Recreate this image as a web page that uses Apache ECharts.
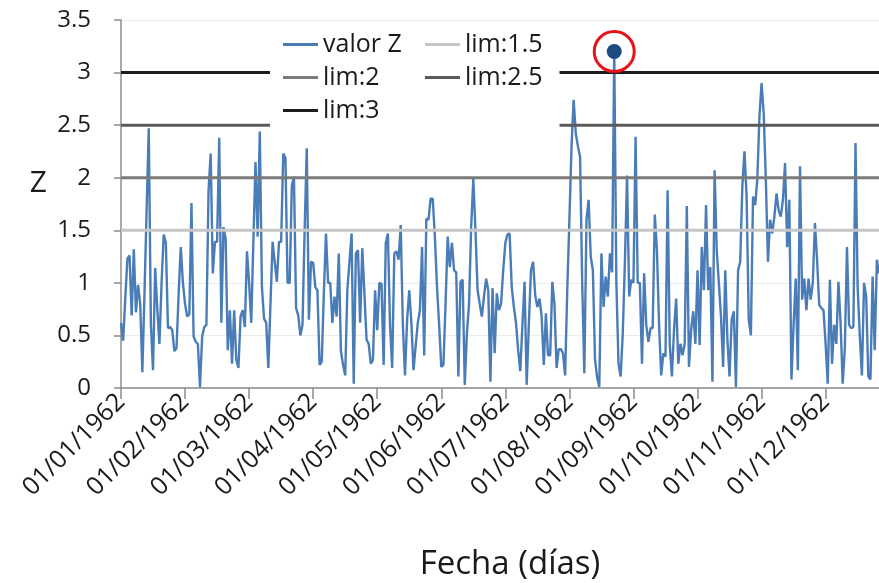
<!DOCTYPE html>
<html>
<head>
<meta charset="utf-8">
<script src="https://cdn.jsdelivr.net/npm/echarts@6/dist/echarts.min.js"></script>
<style>html,body{margin:0;padding:0;background:#fff;}#c{width:879px;height:583px;}</style>
</head>
<body>
<div id="c"></div>
<script>
// Tick labels (one per month, every 30 slots)
var tickLabels = ['01/01/1962','01/02/1962','01/03/1962','01/04/1962','01/05/1962','01/06/1962',
  '01/07/1962','01/08/1962','01/09/1962','01/10/1962','01/11/1962','01/12/1962'];

// Daily Z values
var zJan = [0.62,0.45,0.85,1.23,1.26,0.69,1.32,0.72,0.98,0.8,0.15,0.9,1.7,2.47,0.6,0.17,1.14,0.75,0.42,1.0,1.46,1.38,0.57,0.58,0.55,0.35,0.38,0.9,1.34,1.0];
var zFeb = [0.8,0.68,0.7,1.76,0.49,0.44,0.42,0.01,0.49,0.58,0.6,1.88,2.23,1.09,1.39,1.39,2.38,0.62,1.53,1.42,0.36,0.74,0.23,0.74,0.27,0.19,0.68,0.74,0.58,1.3];
var zMar = [1.0,0.62,1.4,2.15,1.44,2.44,0.96,0.66,0.62,0.19,0.8,1.39,1.2,1.01,1.39,1.39,2.23,2.19,1.0,1.0,1.92,2.01,0.76,0.69,0.5,0.6,1.5,2.28,0.65,1.2];
var zApr = [1.19,0.96,0.93,0.22,0.25,0.9,1.47,1.0,1.0,0.62,0.87,0.68,1.28,0.35,0.22,0.12,0.93,1.2,1.47,0.04,1.28,1.31,0.62,1.33,0.9,0.46,0.42,0.23,0.27,0.93];
var zMay = [0.55,1.0,0.99,0.22,1.38,1.47,0.6,0.19,1.28,1.3,1.22,1.55,0.6,0.12,0.65,0.93,0.62,0.17,0.4,0.62,0.74,1.34,0.31,1.61,1.6,1.8,1.8,1.44,0.96,0.6];
var zJun = [0.2,0.22,0.8,1.44,1.15,1.38,1.12,1.1,0.11,1.01,1.03,0.03,0.52,0.8,1.53,1.99,1.5,0.93,0.8,0.68,0.87,1.04,0.93,0.06,0.95,0.33,0.9,0.74,0.8,1.12];
var zJul = [1.38,1.46,1.47,0.96,0.77,0.62,0.36,0.16,0.6,1.01,0.03,0.6,1.12,1.2,0.88,0.77,0.85,0.68,0.22,0.71,0.31,0.31,1.01,0.8,0.19,0.37,0.37,0.33,0.12,0.93];
var zAug = [1.6,2.3,2.74,2.42,2.3,2.2,1.0,0.14,1.6,1.79,1.25,1.12,0.27,0.1,0.01,1.28,0.77,1.06,0.87,1.28,1.1,3.2,1.0,0.23,0.11,0.52,1.2,2.02,0.87,1.03];
var zSep = [1.0,2.39,1.0,1.0,0.23,1.09,0.6,0.44,0.57,0.57,1.65,1.31,0.6,0.12,0.33,0.3,1.88,0.41,0.11,0.55,0.85,0.23,0.42,0.31,0.42,1.73,0.2,0.55,0.73,0.42];
var zOct = [1.12,0.41,1.34,0.93,1.74,0.93,1.15,0.06,2.07,1.31,1.0,0.68,0.2,1.12,0.46,0.11,0.65,0.73,0.01,1.12,1.2,1.92,2.25,1.82,0.65,0.5,1.82,1.74,1.98,2.58];
var zNov = [2.9,2.61,1.98,1.2,1.6,1.47,1.63,1.85,1.69,1.63,1.79,2.14,1.34,1.79,0.08,0.6,1.04,0.17,2.11,0.84,1.04,0.74,1.04,0.84,1.0,1.57,1.22,0.79,0.76,0.74];
var zDec = [0.42,0.04,1.03,0.23,0.6,0.42,1.01,0.62,0.04,0.38,1.34,0.6,0.57,0.58,2.33,0.96,0.5,0.12,1.0,0.87,0.11,0.08,1.06,0.36,1.22,1.09];

var limValues = [1.5, 2, 2.5, 3];
var limNames = ['lim:1.5', 'lim:2', 'lim:2.5', 'lim:3'];
var limColors = ['#c6c6c6', '#7a7a7a', '#5a5a5a', '#1c1c1c'];

var zValues = [].concat(zJan, zFeb, zMar, zApr, zMay, zJun, zJul, zAug, zSep, zOct, zNov, zDec);
var lastIdx = zValues.length - 1;
var zData = zValues.map(function (v, i) { return [i, v]; });

var FONT = 'Open Sans';
var chart = echarts.init(document.getElementById('c'), null, { renderer: 'canvas' });

var series = [{
  name: 'valor Z',
  type: 'line',
  data: zData,
  symbol: 'none',
  lineStyle: { color: '#4a7cb8', width: 2.4 },
  itemStyle: { color: '#4a7cb8' },
  z: 2,
  markPoint: {
    silent: true,
    label: { show: false },
    data: [
      { type: 'max', symbol: 'circle', symbolSize: 40,
        itemStyle: { color: 'rgba(255,255,255,0)', borderColor: '#e5141b', borderWidth: 3 } },
      { type: 'max', symbol: 'circle', symbolSize: 15, itemStyle: { color: '#1d4a80' } }
    ]
  }
}];
limValues.forEach(function (v, k) {
  series.push({
    name: limNames[k],
    type: 'line',
    data: [[0, v], [lastIdx, v]],
    symbol: 'none',
    lineStyle: { color: limColors[k], width: 3 },
    itemStyle: { color: limColors[k] },
    z: 3
  });
});

var legendText = { fontFamily: FONT, fontSize: 25, color: '#1a1a1a' };

chart.setOption({
  animation: false,
  backgroundColor: '#fff',
  textStyle: { fontFamily: FONT },
  grid: { left: 121, right: 0, top: 20, bottom: 195, containLabel: false, outerBoundsMode: 'none' },
  legend: [{
    data: ['valor Z', 'lim:2', 'lim:3'],
    orient: 'vertical',
    left: 270, top: 25,
    padding: [7, 30, 10, 13],
    itemGap: 8,
    itemWidth: 35, itemHeight: 3,
    icon: 'rect',
    backgroundColor: '#fff',
    textStyle: legendText
  }, {
    data: ['lim:1.5', 'lim:2.5'],
    orient: 'vertical',
    left: 405, top: 25,
    padding: [7, 17, 45, 20],
    itemGap: 8,
    itemWidth: 35, itemHeight: 3,
    icon: 'rect',
    backgroundColor: '#fff',
    textStyle: legendText
  }],
  xAxis: {
    type: 'value',
    min: 0, max: lastIdx, interval: 30,
    name: 'Fecha (días)',
    nameLocation: 'middle',
    nameGap: 160,
    nameTextStyle: { fontFamily: FONT, fontSize: 33, color: '#1a1a1a', padding: [0, 0, 0, 20] },
    axisLine: { lineStyle: { color: '#8c8c8c', width: 1.5 } },
    axisTick: { show: true, length: 11, lineStyle: { color: '#8c8c8c', width: 1.5 } },
    splitLine: { show: false },
    axisLabel: {
      rotate: 45, margin: 10, showMaxLabel: false,
      fontFamily: FONT, fontSize: 25, color: '#1a1a1a',
      formatter: function (v) { return (v % 30 === 0) ? tickLabels[v / 30] : ''; }
    }
  },
  yAxis: {
    type: 'value',
    min: 0, max: 3.5, interval: 0.5,
    name: 'Z',
    nameLocation: 'middle',
    nameGap: 74,
    nameRotate: 0,
    nameTextStyle: { fontFamily: FONT, fontSize: 30, color: '#1a1a1a',
      verticalAlign: 'bottom', padding: [0, 0, 6, 0] },
    axisLine: { show: true, lineStyle: { color: '#8c8c8c', width: 1.5 } },
    axisTick: { show: true, length: 7, lineStyle: { color: '#8c8c8c', width: 1.5 } },
    splitLine: { show: true, lineStyle: { color: '#ececec', width: 1 } },
    axisLabel: { margin: 30, fontFamily: FONT, fontSize: 24, color: '#1a1a1a' }
  },
  series: series
});
</script>
</body>
</html>
